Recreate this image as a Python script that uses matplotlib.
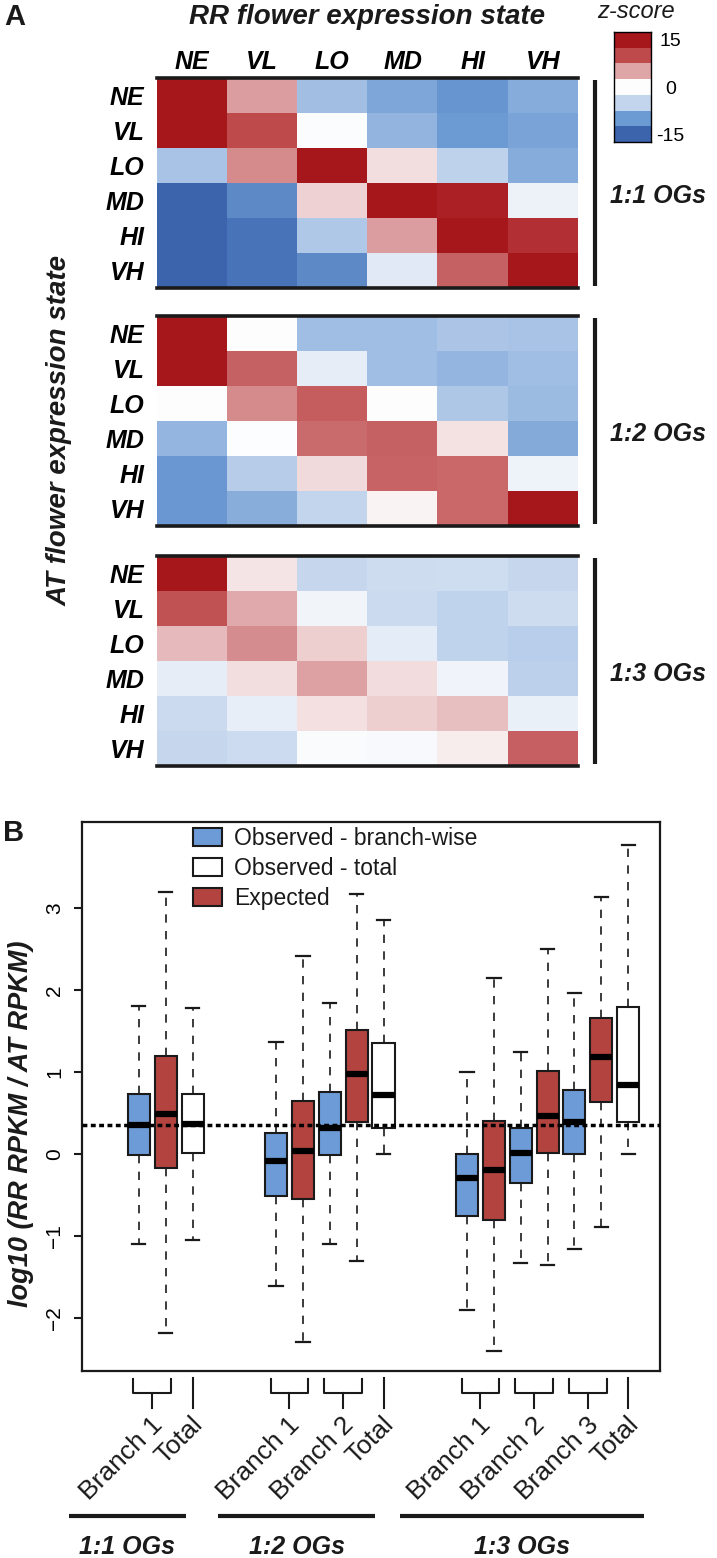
import matplotlib
matplotlib.use("Agg")
import matplotlib.pyplot as plt
import numpy as np
from matplotlib.colors import LinearSegmentedColormap, Normalize
from matplotlib.patches import Patch

plt.rcParams['font.family'] = ['Liberation Sans', 'DejaVu Sans']
plt.rcParams['text.color'] = '#1a1a1a'

# ---- data: panel A (z-scores, rows = AT state, cols = RR state)
states = ["NE", "VL", "LO", "MD", "HI", "VH"]
panel_names = ["1:1 OGs", "1:2 OGs", "1:3 OGs"]

z_11 = [[15.0, 5.5, -6.8, -9.0, -10.5, -8.5],
        [15.0, 10.0, -0.3, -7.8, -10.0, -9.2],
        [-6.5, 6.5, 15.0, 1.8, -5.2, -8.5],
        [-15.0, -11.5, 2.5, 15.0, 14.0, -1.5],
        [-15.0, -13.5, -6.0, 5.5, 15.0, 12.5],
        [-15.0, -13.5, -11.5, -2.5, 8.7, 15.0]]
z_12 = [[15.0, 0.0, -7.0, -7.0, -6.3, -6.5],
        [15.0, 8.7, -2.0, -7.0, -7.7, -7.0],
        [0.0, 6.5, 9.0, 0.0, -6.2, -7.2],
        [-7.7, -0.2, 8.3, 8.7, 1.6, -8.6],
        [-10.3, -5.7, 2.0, 8.6, 8.4, -1.4],
        [-10.3, -8.4, -5.0, 0.7, 8.4, 15.0]]
z_13 = [[15.0, 1.5, -4.7, -4.0, -3.9, -4.8],
        [9.5, 4.8, -1.1, -4.3, -5.1, -4.0],
        [3.8, 6.4, 2.6, -2.2, -5.1, -5.6],
        [-2.0, 1.8, 5.2, 1.9, -1.2, -5.3],
        [-4.3, -1.9, 1.7, 2.6, 3.6, -1.7],
        [-4.7, -4.2, -0.4, -0.7, 1.0, 8.9]]
cbar_levels = [15, 10, 5, 0, -5, -10, -15]

# ---- data: panel B (log10 RR/AT RPKM box stats)
box_kind = ["obs", "exp", "tot",
            "obs", "exp", "obs", "exp", "tot",
            "obs", "exp", "obs", "exp", "obs", "exp", "tot"]
box_group = [0, 0, 0, 1, 1, 1, 1, 1, 2, 2, 2, 2, 2, 2, 2]
med = [0.35, 0.49, 0.37, -0.09, 0.04, 0.32, 0.97, 0.72,
       -0.30, -0.20, 0.01, 0.46, 0.39, 1.18, 0.84]
q1 = [-0.01, -0.17, 0.01, -0.51, -0.55, -0.01, 0.39, 0.32,
      -0.76, -0.81, -0.35, 0.01, 0.00, 0.63, 0.39]
q3 = [0.73, 1.19, 0.73, 0.25, 0.65, 0.75, 1.51, 1.35,
      0.00, 0.40, 0.32, 1.01, 0.78, 1.66, 1.79]
whis_lo = [-1.10, -2.19, -1.05, -1.61, -2.29, -1.10, -1.31, 0.00,
           -1.90, -2.40, -1.33, -1.36, -1.16, -0.89, 0.00]
whis_hi = [1.81, 3.19, 1.78, 1.37, 2.41, 1.84, 3.17, 2.86,
           1.00, 2.15, 1.24, 2.50, 1.96, 3.14, 3.77]
ref_level = 0.35
legend_labels = ["Observed - branch-wise", "Observed - total", "Expected"]

# ---- figure layout in pixels
W, H = 717, 1558
fig = plt.figure(figsize=(W / 100, H / 100), dpi=100)


def add_ax(x0, y0, x1, y1):
    return fig.add_axes([x0 / W, 1 - y1 / H, (x1 - x0) / W, (y1 - y0) / H])


cmap = LinearSegmentedColormap.from_list(
    "zs", [(0.0, '#3B64AD'), (1 / 6, '#6D9BD4'), (2 / 6, '#C3D5ED'),
           (0.5, '#FFFFFF'), (4 / 6, '#DFA6A8'), (5 / 6, '#BF4B4D'),
           (1.0, '#A6171C')])
norm = Normalize(-15, 15)
lab = dict(fontsize=18, fontweight='bold', style='italic')

fig.text(15 / W, 1 - 17 / H, "A", fontsize=21, fontweight='bold', ha='center', va='center')
fig.text(367 / W, 1 - 17 / H, "RR flower expression state", fontsize=20,
         fontweight='bold', style='italic', ha='center', va='center')
fig.text(60 / W, 1 - 431 / H, "AT flower expression state", fontsize=20,
         fontweight='bold', style='italic', rotation=90, ha='center', va='center')

panel_px = [(78, 288), (316, 526), (556, 766)]
for k, z in enumerate([z_11, z_12, z_13]):
    y0, y1 = panel_px[k]
    ax = add_ax(157, y0, 578, y1)
    ax.imshow(np.array(z), cmap=cmap, norm=norm, aspect='auto', interpolation='nearest')
    ax.set_yticks(range(6))
    ax.set_yticklabels(states, **lab)
    ax.tick_params(axis='y', length=0, pad=9)
    if k == 0:
        ax.xaxis.set_ticks_position('top')
        ax.set_xticks(range(6))
        ax.set_xticklabels(states, **lab)
        ax.tick_params(axis='x', length=0, pad=3)
    else:
        ax.set_xticks([])
    for s in ['left', 'right']:
        ax.spines[s].set_visible(False)
    for s in ['top', 'bottom']:
        ax.spines[s].set_linewidth(2.6)
        ax.spines[s].set_color('#1a1a1a')
    ax.plot([1.041, 1.041], [0.01, 0.99], transform=ax.transAxes, color='#1a1a1a',
            lw=3, clip_on=False, solid_capstyle='butt')
    ax.text(1.076, 0.44, panel_names[k], transform=ax.transAxes, ha='left', va='center', **lab)

# colour key
cax = add_ax(614, 32, 651, 142)
cax.imshow(np.array(cbar_levels)[:, None], cmap=cmap, norm=norm, aspect='auto')
cax.set_xticks([])
cax.yaxis.tick_right()
cax.set_yticks([0, 3, 6])
cax.set_yticklabels(["15", "0", "-15"], fontsize=14)
cax.tick_params(axis='y', length=0, pad=14)
for t in cax.get_yticklabels():
    t.set_ha('center')
for s in cax.spines.values():
    s.set_linewidth(1)
fig.text(636 / W, 1 - 12 / H, "z-score", fontsize=17, style='italic', ha='center', va='center')

# ---- panel B
fig.text(14 / W, 1 - 833 / H, "B", fontsize=21, fontweight='bold', ha='center', va='center')
bx = add_ax(82, 822, 660, 1371)

n_groups = len(panel_names)
pos = []
p = 1.0
for g in range(n_groups):
    for i, bg in enumerate(box_group):
        if bg == g:
            pos.append(p)
            p += 1
    p += 2.1

colors = {"obs": '#6C9BD7', "exp": '#B2433F', "tot": '#FFFFFF'}
stats = [dict(med=med[i], q1=q1[i], q3=q3[i], whislo=whis_lo[i], whishi=whis_hi[i])
         for i in range(len(med))]
res = bx.bxp(stats, positions=pos, widths=0.82, capwidths=0.5, patch_artist=True,
             showfliers=False,
             boxprops=dict(edgecolor='#1a1a1a', linewidth=1.5),
             medianprops=dict(color='black', linewidth=4.5, solid_capstyle='butt'),
             whiskerprops=dict(color='#1a1a1a', linewidth=1.2, linestyle=(0, (5, 5))),
             capprops=dict(color='#1a1a1a', linewidth=1.6))
for patch, kind in zip(res['boxes'], box_kind):
    patch.set_facecolor(colors[kind])
bx.axhline(ref_level, color='black', lw=2.5, linestyle=(0, (1.4, 1.0)), zorder=5)

bx.set_xlim(-1.11, 20.38)
bx.set_ylim(-2.65, 4.05)
bx.set_xticks([])
yt = [-2, -1, 0, 1, 2, 3]
bx.set_yticks(yt)
bx.set_yticklabels([str(v).replace('-', '\u2212') for v in yt], rotation=90, va='center',
                   fontsize=15)
bx.tick_params(axis='y', direction='out', length=6, width=1.5, pad=7, color='#1a1a1a')
for s in bx.spines.values():
    s.set_linewidth(1.6)
    s.set_color('#1a1a1a')
fig.text(21 / W, 1 - 1124 / H, "log10 (RR RPKM / AT RPKM)", fontsize=19.5, fontweight='bold',
         style='italic', rotation=90, ha='center', va='center')

handles = [Patch(facecolor=colors[k], edgecolor='#1a1a1a', linewidth=1.5)
           for k in ["obs", "tot", "exp"]]
bx.legend(handles, legend_labels, loc='upper left', bbox_to_anchor=(193 / W, 1 - 827 / H),
          bbox_transform=fig.transFigure, frameon=False, fontsize=16.5, borderpad=0,
          borderaxespad=0, handlelength=1.25, handleheight=0.8, handletextpad=0.55,
          labelspacing=0.3)


def yf(px):
    return (1371 - px) / (1371 - 822)


tr = bx.get_xaxis_transform()
anno = dict(color='#1a1a1a', lw=1.5, transform=tr, clip_on=False)
branch_no = 0
last_g = -1
i = 0
while i < len(box_kind):
    g = box_group[i]
    if g != last_g:
        branch_no = 0
        last_g = g
    if box_kind[i] == "obs":
        a, b = pos[i] - 0.2, pos[i + 1] + 0.2
        m = (pos[i] + pos[i + 1]) / 2
        bx.plot([a, a, b, b], [yf(1379), yf(1393), yf(1393), yf(1379)], **anno)
        bx.plot([m, m], [yf(1393), yf(1408)], **anno)
        branch_no += 1
        bx.text(m + 0.25, yf(1421), "Branch %d" % branch_no, rotation=45,
                rotation_mode='anchor', ha='right', va='center', fontsize=19, transform=tr)
        i += 2
    else:
        bx.plot([pos[i], pos[i]], [yf(1378), yf(1408)], **anno)
        bx.text(pos[i] + 0.25, yf(1421), "Total", rotation=45,
                rotation_mode='anchor', ha='right', va='center', fontsize=19, transform=tr)
        i += 1

group_lines = [(-1.6, 2.75), (3.95, 9.8), (10.7, 19.8)]
for g in range(n_groups):
    a, b = group_lines[g]
    bx.plot([a, b], [yf(1516)] * 2, color='#1a1a1a', lw=3, transform=tr, clip_on=False,
            solid_capstyle='butt')
    bx.text((a + b) / 2, yf(1547), panel_names[g], ha='center', va='center',
            transform=tr, **lab)

fig.savefig("out.png", dpi=100)
